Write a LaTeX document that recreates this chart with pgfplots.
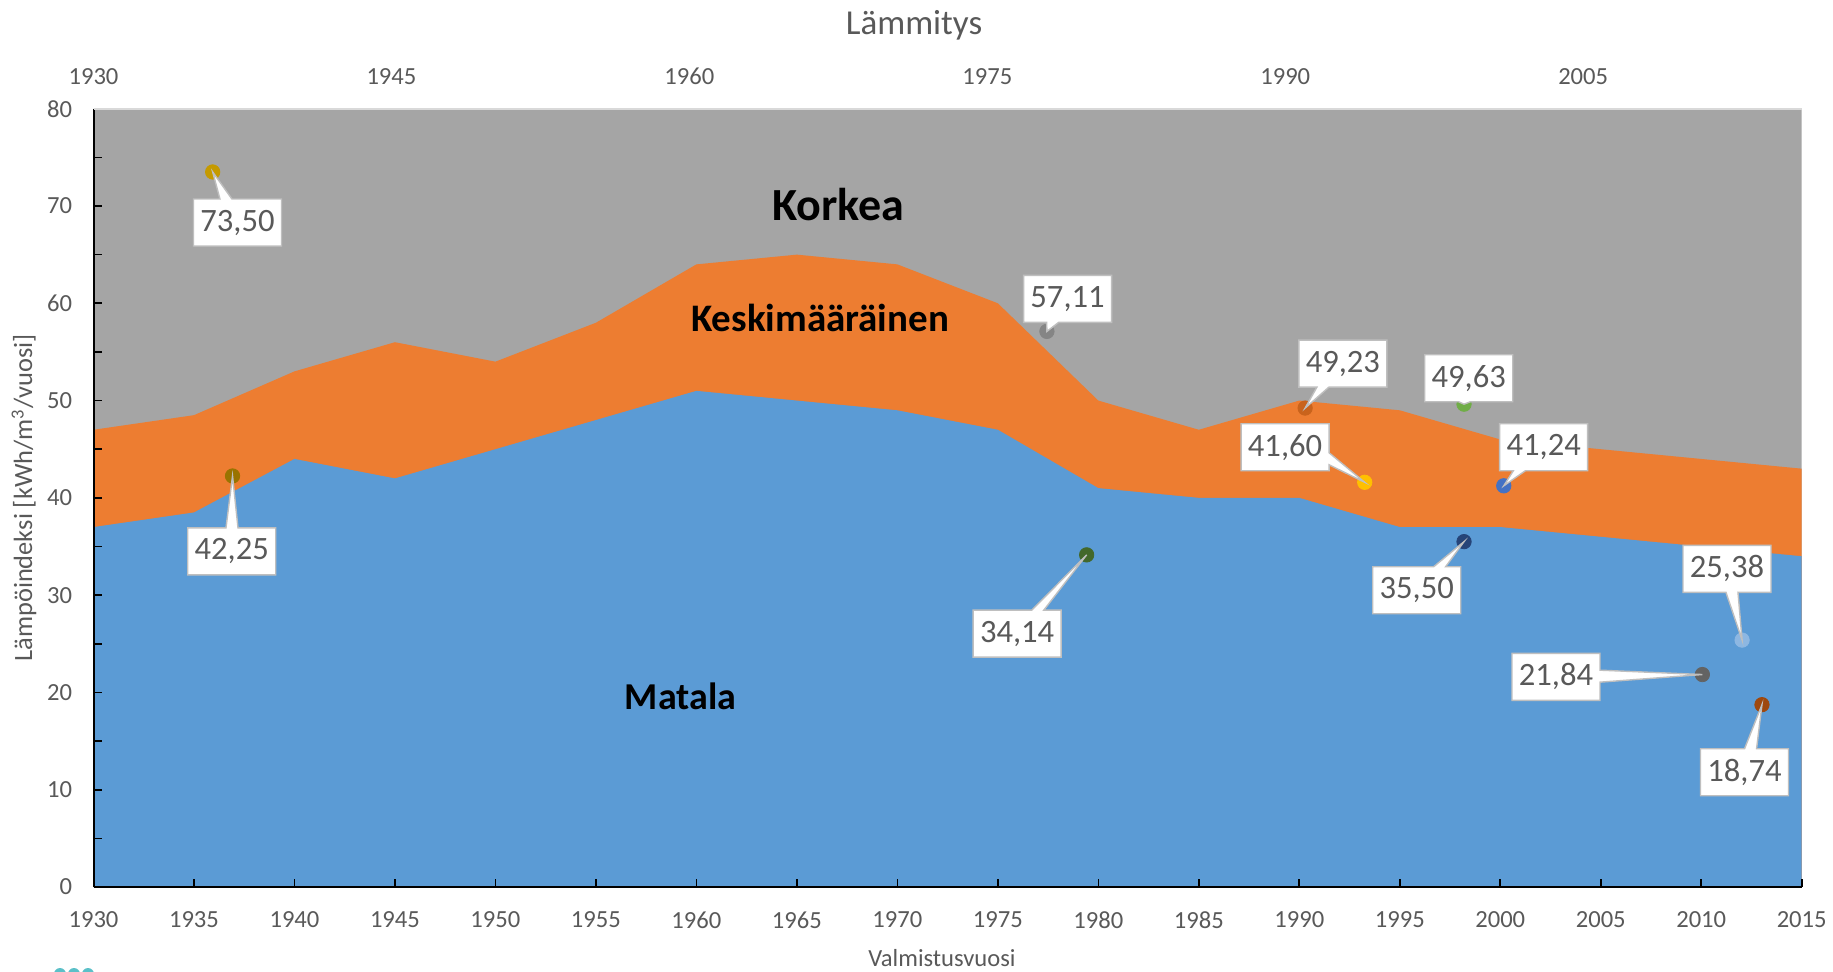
\documentclass[border=0pt]{standalone}
\usepackage{fontspec}
\setmainfont{Carlito}
\usepackage{pgfplots}
\usepackage{pgfplotstable}
\pgfplotsset{compat=1.18}
\usetikzlibrary{shapes.callouts}

\definecolor{korkeac}{HTML}{A5A5A5}
\definecolor{keskic}{HTML}{ED7D31}
\definecolor{matalac}{HTML}{5B9BD5}
\definecolor{txt}{HTML}{595959}
\definecolor{m1}{HTML}{C59A00}
\definecolor{m2}{HTML}{997300}
\definecolor{m3}{HTML}{858585}
\definecolor{m4}{HTML}{43682B}
\definecolor{m5}{HTML}{C9631C}
\definecolor{m6}{HTML}{FFC000}
\definecolor{m7}{HTML}{70AD47}
\definecolor{m8}{HTML}{264478}
\definecolor{m9}{HTML}{4472C4}
\definecolor{m10}{HTML}{636363}
\definecolor{m11}{HTML}{8DB7E2}
\definecolor{m12}{HTML}{9E480E}
\definecolor{logo}{HTML}{5BC0C8}

% ylarajat: matala = sinisen alueen yläraja, keski = oranssin alueen yläraja
\pgfplotstableread{
vuosi matala keski
1930 37   47
1935 38.5 48.5
1940 44   53
1945 42   56
1950 45   54
1955 48   58
1960 51   64
1965 50   65
1970 49   64
1975 47   60
1980 41   50
1985 40   47
1990 40   50
1995 37   49
2000 37   46
2005 36   45
2010 35   44
2015 34   43
}\alue

\tikzset{
  kupla/.style={rectangle callout, fill=white, draw=black!25, line width=0.7pt,
    text=txt, font=\fontsize{16.3}{18}\selectfont, minimum width=44pt,
    minimum height=23.5pt, inner sep=2pt, callout pointer width=6pt}
}
\pgfplotsset{
  pohja/.style={scale only axis, width=854.1pt, height=389.15pt,
    at={(46.75pt,-443.5pt)}, anchor=south west, ymin=0, ymax=80,
    /pgf/number format/1000 sep={}, /pgf/number format/assume math mode=true,
    ticklabel style={font=\fontsize{12.3}{14}\selectfont, text=txt}}
}

\begin{document}
\begin{tikzpicture}
\begin{axis}[pohja, xmin=1930, xmax=2015,
  axis x line*=bottom, axis y line*=left,
  axis line style={black, line width=1pt},
  xtick={1930,1935,...,2015}, ytick={0,10,...,80}, minor y tick num=1,
  tick align=inside, major tick length=4pt, minor tick length=4pt,
  tick style={black, line width=0.8pt},
  xticklabel style={anchor=north, inner sep=0pt, yshift=-12pt},
  yticklabel style={anchor=east, inner sep=0pt, xshift=-10.5pt},
  axis on top]
\addplot[fill=korkeac, draw=none] coordinates {(1930,80) (2015,80)} \closedcycle;
\addplot[fill=keskic, draw=none] table[x=vuosi, y=keski] {\alue} \closedcycle;
\addplot[fill=matalac, draw=none] table[x=vuosi, y=matala] {\alue} \closedcycle;
\node[font=\bfseries\fontsize{23}{26}\selectfont] at (axis cs:1967.06,70.2) {Korkea};
\node[font=\bfseries\fontsize{19.5}{22}\selectfont] at (axis cs:1966.16,58.5) {Keskimääräinen};
\node[font=\bfseries\fontsize{19}{22}\selectfont] at (axis cs:1959.21,19.65) {Matala};
\end{axis}

\begin{axis}[pohja, xmin=1930, xmax=2016,
  axis x line*=top, axis y line=none,
  axis line style={draw=black!15, line width=0.8pt},
  xtick={1930,1945,...,2005}, major tick length=0pt,
  xticklabel style={anchor=south, inner sep=0pt, yshift=11.6pt}]
\addplot[only marks, mark=*, mark size=3.6pt, color=m1] coordinates {(1936,73.50)};
\addplot[only marks, mark=*, mark size=3.6pt, color=m2] coordinates {(1937,42.25)};
\addplot[only marks, mark=*, mark size=3.6pt, color=m3] coordinates {(1978,57.11)};
\addplot[only marks, mark=*, mark size=3.6pt, color=m4] coordinates {(1980,34.14)};
\addplot[only marks, mark=*, mark size=3.6pt, color=m5] coordinates {(1991,49.23)};
\addplot[only marks, mark=*, mark size=3.6pt, color=m6] coordinates {(1994,41.60)};
\addplot[only marks, mark=*, mark size=3.6pt, color=m7] coordinates {(1999,49.63)};
\addplot[only marks, mark=*, mark size=3.6pt, color=m8] coordinates {(1999,35.50)};
\addplot[only marks, mark=*, mark size=3.6pt, color=m9] coordinates {(2001,41.24)};
\addplot[only marks, mark=*, mark size=3.6pt, color=m10] coordinates {(2011,21.84)};
\addplot[only marks, mark=*, mark size=3.6pt, color=m11] coordinates {(2013,25.38)};
\addplot[only marks, mark=*, mark size=3.6pt, color=m12] coordinates {(2014,18.74)};
% pisteet ja tekstilaatikoiden keskipisteet
\coordinate (p1) at (axis cs:1936,73.50);  \coordinate (b1) at (axis cs:1937.25,68.3);
\coordinate (p2) at (axis cs:1937,42.25);  \coordinate (b2) at (axis cs:1936.96,34.5);
\coordinate (p3) at (axis cs:1978,57.11);  \coordinate (b3) at (axis cs:1979.04,60.45);
\coordinate (p4) at (axis cs:1980,34.14);  \coordinate (b4) at (axis cs:1976.50,26.05);
\coordinate (p5) at (axis cs:1991,49.23);  \coordinate (b5) at (axis cs:1992.90,53.8);
\coordinate (p6) at (axis cs:1994,41.60);  \coordinate (b6) at (axis cs:1989.99,45.2);
\coordinate (p7) at (axis cs:1999,49.63);  \coordinate (b7) at (axis cs:1999.24,52.3);
\coordinate (p8) at (axis cs:1999,35.50);  \coordinate (b8) at (axis cs:1996.62,30.5);
\coordinate (p9) at (axis cs:2001,41.24);  \coordinate (b9) at (axis cs:2003.01,45.2);
\coordinate (p10) at (axis cs:2011,21.84); \coordinate (b10) at (axis cs:2003.63,21.6);
\coordinate (p11) at (axis cs:2013,25.38); \coordinate (b11) at (axis cs:2012.24,32.7);
\coordinate (p12) at (axis cs:2014,18.74); \coordinate (b12) at (axis cs:2013.12,11.8);
\end{axis}

\node[kupla, callout absolute pointer=(p1)] at (b1) {73,50};
\node[kupla, callout absolute pointer=(p2)] at (b2) {42,25};
\node[kupla, callout absolute pointer=(p3)] at (b3) {57,11};
\node[kupla, callout absolute pointer=(p4)] at (b4) {34,14};
\node[kupla, callout absolute pointer=(p5)] at (b5) {49,23};
\node[kupla, callout absolute pointer=(p6)] at (b6) {41,60};
\node[kupla, callout absolute pointer=(p7)] at (b7) {49,63};
\node[kupla, callout absolute pointer=(p8)] at (b8) {35,50};
\node[kupla, callout absolute pointer=(p9)] at (b9) {41,24};
\node[kupla, callout absolute pointer=(p10)] at (b10) {21,84};
\node[kupla, callout absolute pointer=(p11)] at (b11) {25,38};
\node[kupla, callout absolute pointer=(p12)] at (b12) {18,74};

\node[anchor=base, text=txt, font=\fontsize{17.5}{20}\selectfont] at (457pt,-17pt) {Lämmitys};
\node[text=txt, font=\fontsize{12.3}{14}\selectfont] at (471pt,-479pt) {Valmistusvuosi};
\node[rotate=90, text=txt, font=\fontsize{13.2}{15}\selectfont] at (12pt,-249pt) {Lämpöindeksi [kWh/m\textsuperscript{3}/vuosi]};

\fill[logo] (30pt,-487pt) circle (3pt) (37pt,-487pt) circle (3pt) (44pt,-487pt) circle (3pt);

\pgfresetboundingbox
\path[use as bounding box] (0pt,0pt) rectangle (916.5pt,-485.5pt);
\end{tikzpicture}
\end{document}
